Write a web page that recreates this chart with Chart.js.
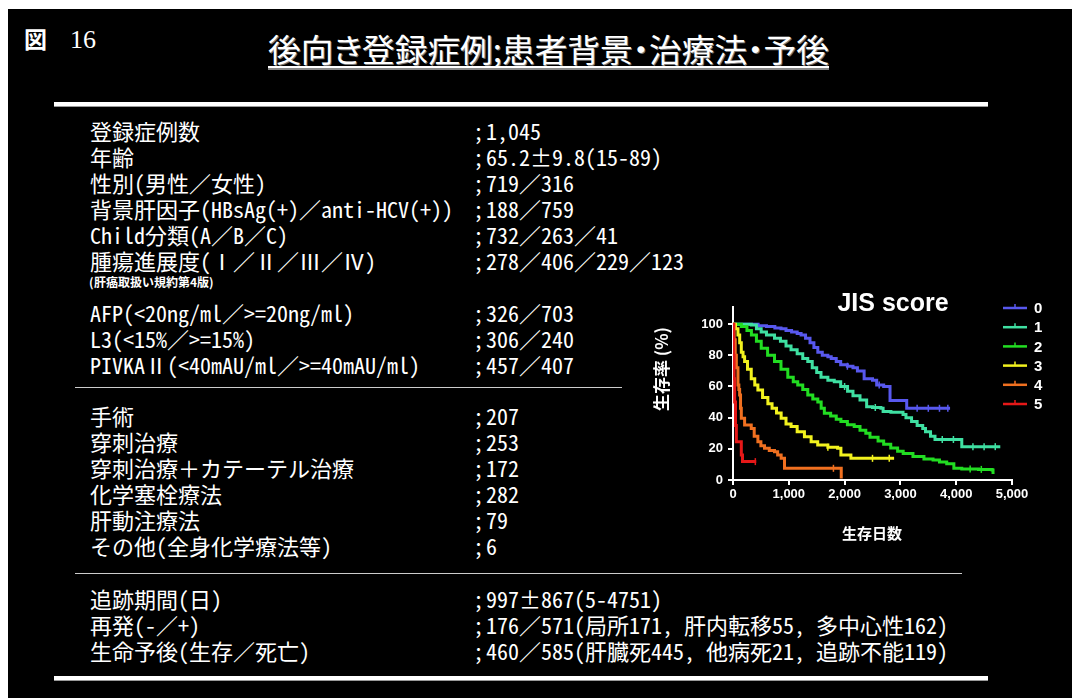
<!DOCTYPE html>
<html>
<head>
<meta charset="utf-8">
<script src="https://cdn.jsdelivr.net/npm/chart.js@4.4.1/dist/chart.umd.min.js"></script>
<style>
  /* same glyphs, tighter line box so stacked rows do not collide */
  @font-face {
    font-family: "RowMono";
    src: local("Noto Sans Mono CJK JP"), local("Noto Sans Mono CJK JP Regular"), local("NotoSansMonoCJKjp-Regular");
    ascent-override: 88%; descent-override: 12%; line-gap-override: 0%;
  }
  @font-face {
    font-family: "NoteBold";
    src: local("Noto Sans CJK JP Bold"), local("NotoSansCJKjp-Bold"), local("Noto Sans CJK JP");
    font-weight: 700;
    ascent-override: 88%; descent-override: 12%; line-gap-override: 0%;
  }
  html, body { margin: 0; padding: 0; width: 1072px; height: 698px; overflow: hidden; background: #fff; }
  #slide { position: absolute; left: 8px; top: 9px; width: 1064px; height: 689px; background: #000; }
  .t { position: absolute; color: #fff; white-space: nowrap; font-family: "RowMono", "Noto Sans Mono CJK JP", "Noto Sans CJK JP", sans-serif; font-size: 22px; line-height: 22px; }
  .note { position: absolute; color: #fff; white-space: nowrap; font-family: "NoteBold", "Noto Sans CJK JP", sans-serif; font-weight: 700; font-size: 12px; line-height: 13px; }
  .rule { position: absolute; background: #fff; }
  #fig { position: absolute; left: 24px; top: 23px; color: #fff; font-family: "Liberation Serif", "Noto Sans CJK JP", serif; font-size: 26px; line-height: 30px; }
  #fig b { font-family: "Noto Sans CJK JP", sans-serif; font-weight: 700; font-size: 23px; margin-right: 23px; }
  #title { position: absolute; left: 268px; top: 29px; color: #fff; font-family: "Noto Sans CJK JP", sans-serif; font-size: 32px; line-height: 38px; white-space: nowrap; transform-origin: 0 0; text-shadow: 1px 1px 0 #777; font-feature-settings: "palt"; }
  #uline { position: absolute; left: 268px; top: 66px; width: 561px; height: 2px; background: #fff; box-shadow: 0 2px 0 #888; }
  #km { position: absolute; left: 630px; top: 285px; }
</style>
</head>
<body>
<div id="slide"></div>
<div id="fig"><b>図</b>16</div>
<div id="title">後向き登録症例;患者背景・治療法・予後</div>
<div id="uline"></div>
<div class="rule" style="left:54px;top:102px;width:934px;height:4px;box-shadow:0 1px 0 #999"></div>
<div class="rule" style="left:75px;top:387px;width:547px;height:1px;background:#ccc"></div>
<div class="rule" style="left:75px;top:573px;width:887px;height:1px;background:#ccc"></div>
<div class="rule" style="left:54px;top:676px;width:934px;height:4px;box-shadow:0 1px 0 #999"></div>
<div id="rows"></div>
<canvas id="km" width="442" height="275"></canvas>

<script>
// ---- patient background table ----
const backgroundRows = [
  ["登録症例数", "1,045"],
  ["年齢", "65.2±9.8(15-89)"],
  ["性別(男性／女性)", "719／316"],
  ["背景肝因子(HBsAg(+)／anti-HCV(+))", "188／759"],
  ["Child分類(A／B／C)", "732／263／41"],
  ["腫瘍進展度(Ⅰ／Ⅱ／Ⅲ／Ⅳ)", "278／406／229／123"],
  null,
  ["AFP(<20ng/ml／>=20ng/ml)", "326／703"],
  ["L3(<15%／>=15%)", "306／240"],
  ["PIVKAⅡ(<40mAU/ml／>=40mAU/ml)", "457／407"]
];
const stageNote = "(肝癌取扱い規約第4版)";
const treatmentRows = [
  ["手術", "207"],
  ["穿刺治療", "253"],
  ["穿刺治療＋カテーテル治療", "172"],
  ["化学塞栓療法", "282"],
  ["肝動注療法", "79"],
  ["その他(全身化学療法等)", "6"]
];
const outcomeRows = [
  ["追跡期間(日)", "997±867(5-4751)"],
  ["再発(-／+)", "176／571(局所171, 肝内転移55, 多中心性162)"],
  ["生命予後(生存／死亡)", "460／585(肝臓死445, 他病死21, 追跡不能119)"]
];

// ---- Kaplan-Meier curves by JIS score (day, survival %) ----
const jisLabels = ["0", "1", "2", "3", "4", "5"];
const jisColors = ["#5858ee", "#3fe0a2", "#22dd22", "#f2f21e", "#f07020", "#e61818"];

const days0 = [0, 300, 450, 600, 750, 860, 950, 1050, 1150, 1220, 1300, 1380, 1450, 1520, 1600, 1700, 1760, 1850, 1930, 2050, 2150, 2230, 2350, 2500, 2575, 2700, 2814, 3113, 3890];
const surv0 = [100, 100, 99, 98.5, 97.5, 97, 96, 95, 94, 93, 91, 88, 85, 82, 80, 79, 78, 76, 74, 73, 72, 70, 65, 64, 61, 60, 51, 46, 46];

const days1 = [0, 200, 330, 420, 505, 600, 744, 850, 950, 1040, 1150, 1250, 1340, 1420, 1500, 1577, 1700, 1815, 1930, 2053, 2150, 2276, 2395, 2500, 2650, 2690, 2830, 3047, 3100, 3200, 3300, 3400, 3450, 3540, 3620, 4100, 4790];
const surv1 = [100, 100, 99.5, 97, 95, 93, 91, 89, 86, 83.5, 81, 78, 76, 72, 69, 66, 64, 63, 60, 57, 54, 51.4, 47, 46.5, 46, 44, 43.5, 42, 40, 37.5, 35, 33, 31, 28, 26, 21.4, 21.4];

const days2 = [0, 150, 250, 330, 420, 506, 620, 744, 860, 982, 1080, 1160, 1250, 1340, 1430, 1520, 1580, 1637, 1750, 1850, 1934, 2050, 2172, 2276, 2380, 2455, 2600, 2700, 2827, 2950, 3050, 3225, 3422, 3585, 3700, 3830, 3958, 4100, 4400, 4643, 4660];
const surv2 = [100, 98.5, 96, 93, 89, 84.6, 80, 76, 71, 66, 63, 61, 58, 54.6, 52, 50, 46, 42.8, 41, 39, 37.5, 35.5, 34.3, 32, 30, 27.5, 25, 23, 20.5, 18.5, 17, 15, 13.5, 12.9, 11.5, 10.5, 7.5, 7, 6.8, 6.4, 3.9];

const days3 = [0, 45, 89, 120, 149, 180, 208, 260, 327, 390, 446, 530, 625, 700, 780, 863, 950, 1041, 1150, 1280, 1400, 1518, 1700, 1875, 1934, 2113, 2887];
const surv3 = [100, 97, 93, 88, 82, 79, 76, 71, 65, 61, 57.8, 53, 49, 46, 43, 39.6, 36, 34.3, 31, 27.8, 24.5, 22.5, 21, 20.3, 16, 13.9, 13.9];

const days4 = [0, 20, 40, 60, 89, 105, 119, 135, 149, 208, 327, 380, 446, 500, 565, 650, 744, 800, 863, 923, 1934, 1940];
const surv4 = [100, 90, 80, 72, 61, 58, 54.6, 46, 39.6, 35.3, 33, 28, 24.6, 22, 20.3, 19, 18.2, 16, 13.9, 7.5, 7.5, 1];

const days5 = [0, 10, 20, 30, 45, 60, 120, 149, 170, 417];
const surv5 = [100, 80, 65, 50, 35, 24.6, 24.6, 16, 11.8, 11.8];

// censored observations (day)
const censor0 = [2050, 2620, 3300, 3500, 3700, 3850];
const censor1 = [2000, 2550, 3750, 3950, 4300, 4500, 4700];
const censor2 = [4250, 4450];
const censor3 = [1700, 2500, 2800];
const censor4 = [1800];
const censor5 = [400];

const xTicks = [0, 1000, 2000, 3000, 4000, 5000];
const yTicks = [0, 20, 40, 60, 80, 100];

// ---- table text ----
const rowsEl = document.getElementById("rows");
function putText(text, x, yCenter) {
  const d = document.createElement("div");
  d.className = "t"; d.style.left = x + "px"; d.style.top = (yCenter - 10) + "px";
  d.textContent = text; rowsEl.appendChild(d);
}
function putRow(label, value, yCenter) {
  putText(label, 90, yCenter);
  putText(";", 473, yCenter);
  putText(value, 486, yCenter);
}
backgroundRows.forEach((r, i) => {
  const y = 131 + i * 26;
  if (r) putRow(r[0], r[1], y);
  else {
    const n = document.createElement("div");
    n.className = "note"; n.style.left = "89px"; n.style.top = (282 - 6) + "px";
    n.textContent = stageNote; rowsEl.appendChild(n);
  }
});
treatmentRows.forEach((r, i) => putRow(r[0], r[1], 416 + i * 26));
outcomeRows.forEach((r, i) => putRow(r[0], r[1], 599 + i * 26));

// condense the heading to its printed width
const titleEl = document.getElementById("title");
titleEl.style.transform = "scaleX(" + (561 / titleEl.getBoundingClientRect().width) + ")";

// ---- survival chart ----
const daysAll = [days0, days1, days2, days3, days4, days5];
const survAll = [surv0, surv1, surv2, surv3, surv4, surv5];
const censorAll = [censor0, censor1, censor2, censor3, censor4, censor5];

function survivalAt(days, surv, t) {
  let v = surv[0];
  for (let i = 0; i < days.length; i++) if (days[i] <= t) v = surv[i];
  return v;
}

const datasets = [];
jisLabels.forEach((lab, g) => {
  datasets.push({
    label: lab,
    data: daysAll[g].map((d, i) => ({ x: d, y: survAll[g][i] })),
    borderColor: jisColors[g],
    borderWidth: 3,
    stepped: true,
    pointRadius: 0,
    fill: false,
    order: 6 - g
  });
  datasets.push({
    label: lab + " censored",
    type: "scatter",
    data: censorAll[g].map(t => ({ x: t, y: survivalAt(daysAll[g], survAll[g], t) })),
    pointStyle: "line",
    rotation: 90,
    radius: 3.5,
    borderColor: jisColors[g],
    borderWidth: 1.5,
    order: 6 - g
  });
});

// canvas origin sits at page x=630, y=285
const decor = {
  id: "decor",
  afterDraw(chart) {
    const ctx = chart.ctx;
    ctx.save();
    ctx.fillStyle = "#fff";
    // heading
    ctx.font = "bold 25px 'Liberation Sans', Arial, sans-serif";
    ctx.textAlign = "center"; ctx.textBaseline = "middle";
    ctx.fillText("JIS score", 263, 19);
    // axis titles
    ctx.font = "bold 15px 'Noto Sans CJK JP', sans-serif";
    ctx.fillText("生存日数", 242, 248);
    ctx.save();
    ctx.translate(32, 84);
    ctx.rotate(-Math.PI / 2);
    ctx.font = "bold 17px 'Noto Sans CJK JP', sans-serif";
    ctx.fillText("生存率 (%)", 0, 0);
    ctx.restore();
    // legend
    ctx.textAlign = "left";
    ctx.font = "bold 15px 'Liberation Sans', Arial, sans-serif";
    jisLabels.forEach((lab, g) => {
      const y = 23 + g * 19.2;
      ctx.strokeStyle = jisColors[g];
      ctx.lineWidth = 2.5;
      ctx.beginPath(); ctx.moveTo(373, y); ctx.lineTo(397, y); ctx.stroke();
      ctx.lineWidth = 1.5;
      ctx.beginPath(); ctx.moveTo(385, y); ctx.lineTo(385, y - 4); ctx.stroke();
      ctx.fillStyle = "#fff";
      ctx.fillText(lab, 404, y + 1);
    });
    ctx.restore();
  }
};

new Chart(document.getElementById("km"), {
  type: "line",
  data: { datasets },
  options: {
    responsive: false,
    devicePixelRatio: 1,
    animation: false,
    layout: { padding: { top: 22, right: 60, left: 0, bottom: 0 } },
    plugins: { legend: { display: false }, tooltip: { enabled: false } },
    scales: {
      x: {
        type: "linear", min: 0, max: 5000,
        afterFit(s) { s.height = 80; },
        afterBuildTicks(s) { s.ticks = xTicks.map(v => ({ value: v })); },
        ticks: {
          color: "#fff", padding: 2, maxRotation: 0,
          font: { family: "'Liberation Sans', Arial, sans-serif", size: 13, weight: "bold" },
          callback: v => v.toLocaleString("en-US")
        },
        grid: { drawOnChartArea: false, drawTicks: true, tickLength: 5, color: "#fff", lineWidth: 2 },
        border: { display: true, color: "#fff", width: 2 }
      },
      y: {
        type: "linear", min: 0, max: 111,
        afterFit(s) { s.width = 103; },
        afterBuildTicks(s) { s.ticks = yTicks.map(v => ({ value: v })); },
        ticks: {
          color: "#fff", padding: 5,
          font: { family: "'Liberation Sans', Arial, sans-serif", size: 13, weight: "bold" }
        },
        grid: { drawOnChartArea: false, drawTicks: true, tickLength: 5, color: "#fff", lineWidth: 2 },
        border: { display: true, color: "#fff", width: 2 }
      }
    }
  },
  plugins: [decor]
});
</script>
</body>
</html>
